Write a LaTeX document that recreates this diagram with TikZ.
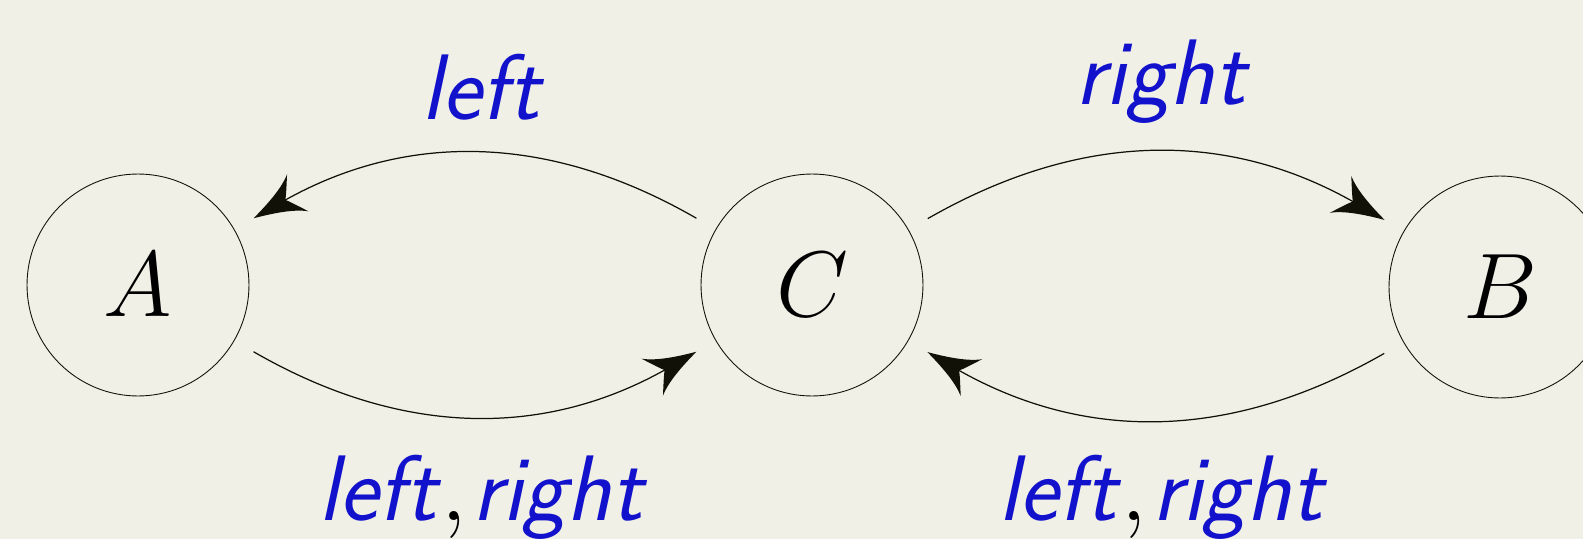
\RequirePackage{fix-cm}
\documentclass[tikz,border=0pt]{standalone}
\usepackage{xcolor}
\usepackage{tikz}
\usetikzlibrary{arrows.meta,positioning}
\definecolor{lblc}{HTML}{1212CC}
\definecolor{bgc}{HTML}{F1F0E7}
\definecolor{inkc}{HTML}{111108}
% curved head, tip at the origin
\pgfdeclarearrow{
  name=Swoosh,
  parameters={\the\pgfarrowlength},
  setup code={
    \pgfarrowssettipend{0pt}
    \pgfarrowssetlineend{-0.6\pgfarrowlength}
    \pgfarrowsupperhullpoint{-\pgfarrowlength}{0.42\pgfarrowlength}
    \pgfarrowsupperhullpoint{0pt}{0pt}
    \pgfarrowssavethe\pgfarrowlength
  },
  drawing code={
    \pgfpathmoveto{\pgfpointorigin}
    \pgfpathcurveto{\pgfqpoint{-0.4\pgfarrowlength}{0.11\pgfarrowlength}}
      {\pgfqpoint{-0.78\pgfarrowlength}{0.24\pgfarrowlength}}
      {\pgfqpoint{-\pgfarrowlength}{0.42\pgfarrowlength}}
    \pgfpathcurveto{\pgfqpoint{-0.86\pgfarrowlength}{0.2\pgfarrowlength}}
      {\pgfqpoint{-0.77\pgfarrowlength}{0.06\pgfarrowlength}}
      {\pgfqpoint{-0.72\pgfarrowlength}{0pt}}
    \pgfpathcurveto{\pgfqpoint{-0.77\pgfarrowlength}{-0.06\pgfarrowlength}}
      {\pgfqpoint{-0.86\pgfarrowlength}{-0.2\pgfarrowlength}}
      {\pgfqpoint{-\pgfarrowlength}{-0.42\pgfarrowlength}}
    \pgfpathcurveto{\pgfqpoint{-0.78\pgfarrowlength}{-0.24\pgfarrowlength}}
      {\pgfqpoint{-0.4\pgfarrowlength}{-0.11\pgfarrowlength}}
      {\pgfpointorigin}
    \pgfpathclose
    \pgfusepathqfill
  },
  defaults={length=29pt}
}
\newcommand{\lbl}[1]{\mbox{\color{lblc}\sffamily\itshape #1}}
\newcommand{\both}{\lbl{left}\mkern1mu{,}\mkern1mu\lbl{right}}
\tikzset{
  ar/.style={-{Swoosh[length=1.02cm]},line width=0.7pt,inkc},
  st/.style={circle,draw=inkc,line width=0.5pt,minimum size=4.44cm,inner sep=0pt,outer sep=0.45cm,font=\fontsize{53}{60}\selectfont},
  lb/.style={anchor=base,inner sep=0pt,font=\fontsize{53}{60}\selectfont}
}

\begin{document}
\begin{tikzpicture}[x=0.02cm,y=0.02cm]
\fill[bgc] (0,0) rectangle (1583,539);
\useasboundingbox (0,0) rectangle (1583,539);
\node[st] (A) at (138,254) {$A$};
\node[st] (C) at (812,254) {$C$};
\node[st] (B) at (1500,252) {$B$};
\draw[ar] (C) to[bend right=30] (A);
\draw[ar] (A) to[bend right=30] (C);
\draw[ar] (C) to[bend left=30] (B);
\draw[ar] (B) to[bend left=30] (C);
\node[lb] (lA) at (481,420) {$\lbl{left}$};
\node[lb] (lB) at (1161,435) {$\lbl{right}$};
\node[lb] (lAC) at (481,19) {$\both$};
\node[lb] (lBC) at (1161,19) {$\both$};
\end{tikzpicture}
\end{document}
